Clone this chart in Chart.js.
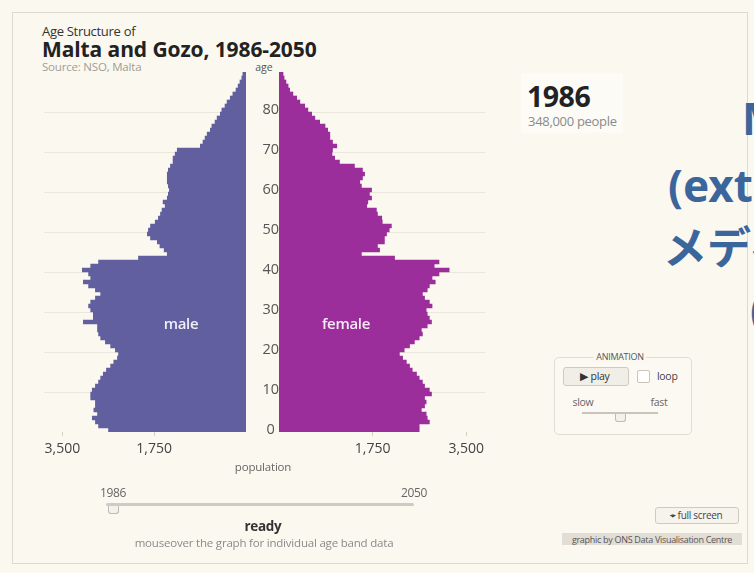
<!DOCTYPE html>
<html>
<head>
<meta charset="utf-8">
<script src="https://cdn.jsdelivr.net/npm/chart.js@4.4.1/dist/chart.umd.min.js"></script>
<style>
  html, body { margin: 0; padding: 0; }
  body { width: 754px; height: 573px; overflow: hidden; background: #fbf8f0; position: relative; font-family: "Open Sans", sans-serif; }
  .frame { position: absolute; left: 12px; top: 12px; width: 734px; height: 550px; border: 1px solid #dedad2; }
  .t { position: absolute; white-space: nowrap; }
  .c { transform: translate(-50%, -50%); }
  .l { transform: translateY(-50%); }
  canvas { position: absolute; }
  .blue { position: absolute; white-space: nowrap; color: #3a669c; font-weight: 700; font-size: 44px; font-family: "Noto Sans", "Noto Sans CJK JP", sans-serif; transform: translateY(-50%); }
</style>
</head>
<body>
<div class="frame"></div>

<div class="t" style="left:42px;top:22px;font-size:13px;color:#333;letter-spacing:-0.3px">Age Structure of</div>
<div class="t" style="left:42px;top:35px;font-size:21px;font-weight:700;color:#222;letter-spacing:-0.1px">Malta and Gozo, 1986-2050</div>
<div class="t" style="left:42px;top:59px;font-size:11.5px;color:#a09d98;letter-spacing:-0.2px">Source: NSO, Malta</div>
<div class="t c" style="left:264px;top:67px;font-size:10.5px;color:#555">age</div>

<canvas id="maleChart" width="226" height="402" style="left:20px;top:60px"></canvas>
<canvas id="femaleChart" width="245" height="402" style="left:246px;top:60px"></canvas>

<div class="t c" style="left:181px;top:323px;font-size:15px;font-weight:600;color:#f0eef8;letter-spacing:-0.3px">male</div>
<div class="t c" style="left:346px;top:323px;font-size:15px;font-weight:600;color:#f6eaf6;letter-spacing:-0.3px">female</div>

<div class="t c" style="left:263px;top:466px;font-size:11.5px;color:#666;letter-spacing:-0.2px">population</div>

<div class="t c" style="left:113px;top:492px;font-size:12px;color:#666;letter-spacing:-0.4px">1986</div>
<div class="t c" style="left:414px;top:492px;font-size:12px;color:#666;letter-spacing:-0.4px">2050</div>
<div style="position:absolute;left:106px;top:503px;width:308px;height:3px;background:#cfcbc2;border-radius:2px"></div>
<div style="position:absolute;left:108px;top:506px;width:9px;height:7px;border:1px solid #bbb;border-top:none;background:#f4f1ea;border-radius:0 0 3px 3px"></div>
<div class="t c" style="left:263px;top:526px;font-size:13.5px;font-weight:700;color:#333;letter-spacing:-0.3px">ready</div>
<div class="t c" style="left:264px;top:542px;font-size:11.5px;color:#8a8a8a;letter-spacing:-0.2px">mouseover the graph for individual age band data</div>

<div style="position:absolute;left:521px;top:73px;width:102px;height:60px;background:#fdfbf6"></div>
<div class="t" style="left:527px;top:77px;font-size:28.5px;font-weight:700;color:#222;letter-spacing:-0.5px">1986</div>
<div class="t l" style="left:528px;top:121px;font-size:13px;color:#8a8a8a;letter-spacing:-0.3px">348,000 people</div>

<div class="blue" style="left:742px;top:118px">Media</div>
<div class="blue" style="left:668px;top:185px">(external link)</div>
<div class="blue" style="left:663px;top:245px">メディア</div>
<div class="blue" style="left:750px;top:307px">(外部リンク)</div>

<div style="position:absolute;left:554px;top:357px;width:136px;height:76px;border:1px solid #e2ddd4;border-radius:5px;background:#fcf9f3"></div>
<div class="t c" style="left:620px;top:356px;font-size:9px;color:#555;background:#fbf8f0;padding:0 3px;letter-spacing:-0.3px">ANIMATION</div>
<div style="position:absolute;left:563px;top:367px;width:64px;height:17px;border:1px solid #cfcac0;border-radius:3px;background:#f1eee8"></div>
<div class="t c" style="left:595px;top:376px;font-size:10.5px;color:#333;letter-spacing:-0.3px">&#9654; play</div>
<div style="position:absolute;left:637px;top:370px;width:11px;height:11px;border:1px solid #c9c4ba;border-radius:2px;background:#fff"></div>
<div class="t l" style="left:657px;top:376px;font-size:10.5px;color:#444;letter-spacing:-0.3px">loop</div>
<div class="t c" style="left:583px;top:402px;font-size:10.5px;color:#666;letter-spacing:-0.3px">slow</div>
<div class="t c" style="left:659px;top:402px;font-size:10.5px;color:#666;letter-spacing:-0.3px">fast</div>
<div style="position:absolute;left:582px;top:412px;width:76px;height:2px;background:#c9c5bc"></div>
<div style="position:absolute;left:615px;top:414px;width:9px;height:7px;border:1px solid #bbb;border-top:none;background:#f4f1ea;border-radius:0 0 3px 3px"></div>

<div style="position:absolute;left:655px;top:507px;width:82px;height:15px;border:1px solid #cfcac0;border-radius:3px;background:#f6f3ed"></div>
<div class="t c" style="left:696px;top:515px;font-size:10px;color:#444;letter-spacing:-0.3px">&#8982; full screen</div>
<div style="position:absolute;left:562px;top:533px;width:180px;height:12px;background:#e2ded6"></div>
<div class="t c" style="left:652px;top:539px;font-size:9px;color:#555;letter-spacing:-0.3px">graphic by ONS Data Visualisation Centre</div>

<script>
// single years of age, 0 to 89
const ages = [
  0, 1, 2, 3, 4, 5, 6, 7, 8, 9,
  10, 11, 12, 13, 14, 15, 16, 17, 18, 19,
  20, 21, 22, 23, 24, 25, 26, 27, 28, 29,
  30, 31, 32, 33, 34, 35, 36, 37, 38, 39,
  40, 41, 42, 43, 44, 45, 46, 47, 48, 49,
  50, 51, 52, 53, 54, 55, 56, 57, 58, 59,
  60, 61, 62, 63, 64, 65, 66, 67, 68, 69,
  70, 71, 72, 73, 74, 75, 76, 77, 78, 79,
  80, 81, 82, 83, 84, 85, 86, 87, 88, 89
];

// population 1986
const male = [
  2620, 2810, 2870, 2930, 2830, 2900, 2870, 2870, 2960, 2960,
  2930, 2870, 2810, 2770, 2720, 2660, 2580, 2520, 2450, 2430,
  2490, 2580, 2680, 2770, 2810, 2830, 2830, 3100, 2910, 2910,
  2960, 3000, 2960, 2870, 2770, 2870, 3000, 3100, 2960, 3000,
  3120, 2960, 2810, 2050, 1500, 1560, 1640, 1690, 1820, 1880,
  1860, 1820, 1730, 1670, 1630, 1600, 1540, 1580, 1500, 1480,
  1460, 1480, 1500, 1500, 1500, 1480, 1440, 1390, 1390, 1350,
  1310, 870, 820, 780, 740, 680, 650, 590, 550, 490,
  460, 400, 360, 300, 250, 190, 150, 115, 80, 60
];

const female = [
  2620, 2620, 2810, 2770, 2750, 2660, 2720, 2750, 2720, 2850,
  2810, 2720, 2680, 2620, 2570, 2490, 2440, 2380, 2310, 2250,
  2340, 2440, 2530, 2620, 2680, 2660, 2770, 2850, 2810, 2770,
  2750, 2860, 2810, 2720, 2680, 2770, 2810, 2920, 2860, 2990,
  3180, 2900, 2990, 2160, 1540, 1880, 1840, 1970, 1970, 2010,
  2060, 2100, 1930, 1920, 1840, 1820, 1640, 1660, 1730, 1690,
  1730, 1540, 1510, 1560, 1600, 1560, 1410, 1130, 1040, 990,
  1000, 1080, 1000, 950, 950, 910, 860, 760, 670, 610,
  540, 480, 390, 330, 260, 200, 170, 130, 95, 75
];

const popTicks = [1750, 3500];
const ageTicks = [0, 10, 20, 30, 40, 50, 60, 70, 80];
const popMax = 3850;

const maleColor = '#625f9f';
const femaleColor = '#9b2e9b';
const gridColor = '#ebe7de';

function ageGrid(ctx) {
  const a = ages[ctx.index];
  return (a > 0 && ageTicks.includes(a)) ? gridColor : 'rgba(0,0,0,0)';
}

function xAxis(reverse) {
  return {
    type: 'linear',
    reverse: reverse,
    min: 0,
    max: popMax,
    afterBuildTicks: (scale) => { scale.ticks = popTicks.map(v => ({ value: v })); },
    afterFit: (scale) => { scale.height = 30; },
    border: { display: false },
    grid: { drawOnChartArea: false, tickLength: 4, color: '#d4d0c8' },
    ticks: {
      padding: 5,
      color: '#444',
      font: { family: 'Open Sans', size: 14 },
      callback: (v) => v.toLocaleString('en-US')
    }
  };
}

function pyramidSide(data, color, reverse, showAges) {
  return {
    type: 'bar',
    data: {
      labels: ages.map(String),
      datasets: [{
        data: data,
        backgroundColor: color,
        borderWidth: 0,
        barPercentage: 1,
        categoryPercentage: 1
      }]
    },
    options: {
      indexAxis: 'y',
      responsive: false,
      animation: false,
      devicePixelRatio: 1,
      layout: { padding: showAges ? { top: 12, right: 6 } : { top: 12, left: 24 } },
      plugins: { legend: { display: false }, tooltip: { enabled: false } },
      scales: {
        x: xAxis(reverse),
        y: {
          type: 'category',
          reverse: true,
          position: showAges ? 'left' : 'right',
          afterFit: (scale) => { scale.width = showAges ? 33 : 0; },
          border: { display: false },
          grid: { drawTicks: false, color: ageGrid },
          ticks: {
            display: showAges,
            autoSkip: false,
            padding: 0,
            crossAlign: 'center',
            color: '#555',
            font: { family: 'Open Sans', size: 14.5 },
            callback: (v, i) => ageTicks.includes(ages[i]) ? String(ages[i]) : ''
          }
        }
      }
    }
  };
}

new Chart('maleChart', pyramidSide(male, maleColor, true, false));
new Chart('femaleChart', pyramidSide(female, femaleColor, false, true));
</script>
</body>
</html>
